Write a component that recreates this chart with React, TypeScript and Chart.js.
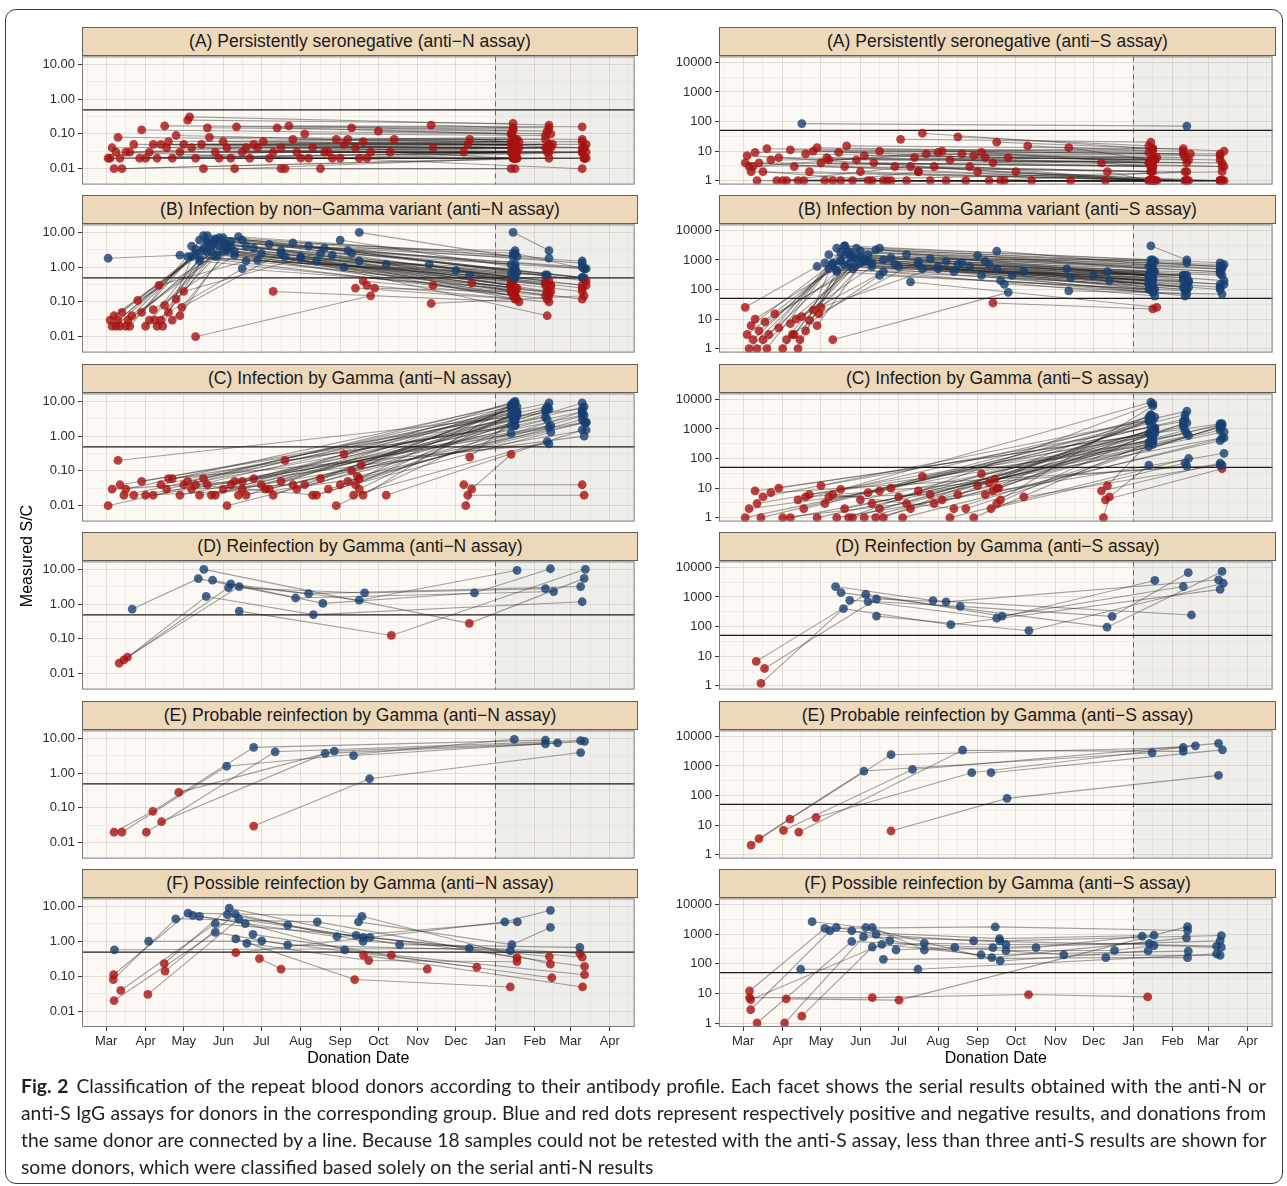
import React, { useEffect, useRef } from "react";
import { Chart, registerables } from "chart.js";

Chart.register(...registerables);
Chart.defaults.font.family = "'Liberation Sans', Arial, Helvetica, sans-serif";

// ---------- calendar / axis ticks ----------
const MONTH_LABELS = ["Mar", "Apr", "May", "Jun", "Jul", "Aug", "Sep", "Oct", "Nov", "Dec", "Jan", "Feb", "Mar", "Apr"];
const MONTH_START_DAYS = [0, 31, 61, 92, 122, 153, 184, 214, 245, 275, 306, 337, 365, 396];
const MONTH_LENGTHS = [31, 30, 31, 30, 31, 31, 30, 31, 30, 31, 31, 28, 31, 30];
const X_MINOR_DAYS = [-14.5, 15.5, 46, 76.5, 107, 137.5, 168.5, 199, 229.5, 260, 290.5, 321.5, 351, 380.5, 411];
const X_MIN_DAY = -19;
const X_MAX_DAY = 415.5;
const JAN_2021_DAY = 306;

const N_TICKS = [0.01, 0.1, 1, 10];
const N_TICK_LABELS = ["0.01", "0.10", "1.00", "10.00"];
const N_MINOR = [0.0316, 0.316, 3.16];
const N_MIN = 0.00349;
const N_MAX = 16.93;
const N_CUTOFF = 0.49;

const S_TICKS = [1, 10, 100, 1000, 10000];
const S_TICK_LABELS = ["1", "10", "100", "1000", "10000"];
const S_MINOR = [3.16, 31.6, 316, 3162];
const S_MIN = 0.734;
const S_MAX = 15910;
const S_CUTOFF = 50;

const ROW_TITLES = [
  "(A) Persistently seronegative",
  "(B) Infection by non\u2212Gamma variant",
  "(C) Infection by Gamma",
  "(D) Reinfection by Gamma",
  "(E) Probable reinfection by Gamma",
  "(F) Possible reinfection by Gamma",
];

// ---------- data (dates in months since 1 Mar 2020) ----------
// (A) persistently seronegative
const A_DATES = [
  [0.1, 10.4], [0.15, 10.5], [0.2, 11.4], [0.3, 10.5], [0.35, 12.3], [0.4, 10.45], [0.6, 11.3], [0.7, 10.6], [0.85, 12.35], [0.9, 10.4],
  [1.1, 10.5], [1.2, 11.5], [1.3, 10.45], [1.5, 11.4], [1.55, 12.3], [1.6, 10.55], [1.7, 11.35], [1.9, 10.4], [2.0, 12.4], [2.1, 10.45],
  [2.15, 11.4], [2.3, 10.5], [2.45, 12.3], [2.6, 10.45], [2.65, 11.3], [2.8, 10.5], [2.9, 12.35], [3.0, 10.4], [3.1, 11.45], [3.3, 10.5],
  [3.35, 10.45], [3.5, 12.3], [3.7, 10.55], [3.9, 11.4], [4.05, 10.45], [4.2, 12.4], [4.4, 10.4], [4.5, 11.35], [4.6, 10.5], [4.7, 12.3],
  [4.8, 10.45], [4.9, 10.5], [5.1, 11.3], [5.2, 10.55], [5.3, 12.35], [5.5, 10.4], [5.7, 11.4], [5.9, 10.5], [6.0, 12.3], [6.1, 10.45],
  [6.3, 11.35], [6.4, 10.5], [6.5, 12.4], [6.6, 10.45], [6.8, 10.55], [7.0, 11.45], [7.3, 10.5], [7.4, 12.3], [8.35, 10.45], [8.4, 11.4],
  [9.2, 10.5], [9.3, 12.35], [9.35, 10.4], [1.0, 4.3, 10.5], [2.2, 5.6, 11.35], [0.5, 3.6, 12.3], [1.8, 6.2, 10.45], [3.2, 6.7, 12.35], [0.25, 5.0], [2.5, 4.5],
  [3.8, 10.6], [5.8, 10.5], [0.05, 10.5], [1.4, 10.55],
];
const A_N = [
  [0.02, 0.03], [0.04, 0.05], [0.01, 0.02], [0.08, 0.06], [0.02, 0.03], [0.01, 0.02], [0.03, 0.04], [0.05, 0.04], [0.02, 0.02], [0.13, 0.1],
  [0.03, 0.03], [0.05, 0.05], [0.02, 0.02], [0.17, 0.15], [0.04, 0.04], [0.06, 0.07], [0.02, 0.03], [0.03, 0.03], [0.05, 0.05], [0.25, 0.2],
  [0.31, 0.18], [0.02, 0.02], [0.05, 0.06], [0.15, 0.12], [0.08, 0.07], [0.03, 0.04], [0.02, 0.02], [0.06, 0.05], [0.04, 0.04], [0.01, 0.02],
  [0.16, 0.14], [0.03, 0.03], [0.02, 0.02], [0.04, 0.05], [0.06, 0.05], [0.02, 0.02], [0.15, 0.1], [0.04, 0.04], [0.01, 0.01], [0.17, 0.16],
  [0.07, 0.06], [0.03, 0.03], [0.1, 0.09], [0.02, 0.02], [0.04, 0.04], [0.01, 0.01], [0.03, 0.03], [0.07, 0.07], [0.02, 0.01], [0.05, 0.05],
  [0.15, 0.12], [0.04, 0.04], [0.02, 0.03], [0.06, 0.06], [0.03, 0.03], [0.12, 0.1], [0.03, 0.02], [0.07, 0.07], [0.18, 0.15], [0.04, 0.05],
  [0.03, 0.03], [0.05, 0.04], [0.07, 0.06], [0.02, 0.03, 0.03], [0.04, 0.03, 0.04], [0.03, 0.04, 0.03], [0.09, 0.07, 0.08], [0.02, 0.02, 0.02], [0.03, 0.02], [0.01, 0.01],
  [0.05, 0.06], [0.02, 0.03], [0.02, 0.02], [0.05, 0.04],
];
const A_S = [
  [7, 1], [3, 5], [2, 1], [9, 12], [1, 1], [4, 3], [12, 10], [5, 6], [1, 2], [6, 4],
  [1, 1], [11, 8], [3, 2], [85, 70], [1, 1], [8, 5], [2, 1], [13, 9], [4, 3], [1, 1],
  [6, 4], [1, 1], [9, 7], [3, 2], [15, 12], [1, 1], [5, 4], [2, 1], [7, 5], [1, 1],
  [4, 3], [10, 8], [1, 1], [3, 2], [25, 20], [1, 1], [6, 4], [2, 1], [40, 12], [8, 5],
  [1, 1], [3, 2], [10, 8], [1, 1], [5, 3], [30, 15], [1, 1], [7, 6], [2, 1], [9, 4],
  [1, 2], [4, 3], [20, 10], [1, 1], [6, 5], [2, 1], [15, 10], [1, 1], [13, 5], [1, 1],
  [4, 3], [1, 1], [2, 1], [1, 3, 1], [5, 8, 6], [2, 1, 1], [10, 6, 5], [1, 1, 1], [3, 9], [1, 2],
  [1, 1], [3, 1], [4, 1], [1, 1],
];

// (B) infection by non-Gamma variant
const B_DATES = [
  [0.1, 2.5, 10.4], [0.15, 2.6, 11.3], [0.2, 2.7, 12.3], [0.25, 2.3, 10.45], [0.3, 2.8, 10.5], [0.35, 3.0, 11.4], [0.4, 2.9, 12.35], [0.5, 2.4, 10.4], [0.55, 3.1, 10.5], [0.6, 2.2, 11.35],
  [0.65, 2.6, 12.3], [0.8, 3.2, 10.45], [0.9, 2.5, 10.55], [1.0, 2.7, 11.45], [1.1, 2.8, 12.4], [1.2, 3.3, 10.4], [1.3, 2.9, 10.5], [1.4, 2.4, 11.3], [1.45, 2.3, 12.3], [1.5, 3.0, 10.45],
  [1.6, 2.6, 10.5], [1.7, 3.4, 11.4], [1.8, 2.8], [1.9, 3.1, 12.35], [1.95, 4.5, 10.4], [2.0, 5.0, 10.5], [1.25, 3.5, 11.35], [2.3, 6.8], [2.1, 10.4], [2.2, 11.3],
  [2.4, 12.3], [2.5, 10.5], [2.6, 6.2, 10.45], [2.7, 5.5, 11.4], [2.75, 10.55], [2.85, 12.4], [3.0, 10.4], [3.1, 6.5, 11.35], [3.2, 12.3], [3.3, 10.5],
  [3.5, 10.45], [3.6, 11.45], [3.8, 12.35], [4.0, 10.4], [4.2, 10.5], [4.5, 11.3], [4.8, 12.3], [5.0, 10.45], [5.2, 10.55], [5.4, 11.4],
  [5.6, 12.4], [5.8, 10.4], [6.0, 10.5], [6.1, 11.35], [6.3, 12.3], [6.5, 10.45], [6.6, 10.5], [6.7, 11.4], [6.4, 10.5], [8.3, 10.4],
  [8.4, 11.3], [9.0, 12.3], [9.4, 10.5], [9.35, 11.45], [8.35, 12.35], [10.45, 11.4], [10.5, 12.35], [4.6, 11.35], [6.9, 10.4], [7.2, 10.5],
  [0.05, 1.9, 10.45], [1.35, 3.6, 10.55], [4.3, 10.6], [3.9, 12.3],
];
const B_N = [
  [0.03, 3.5, 0.3], [0.02, 5, 0.4], [0.04, 4, 0.25], [0.02, 2.5, 0.8], [0.03, 6, 1.2], [0.02, 3, 0.15], [0.05, 7, 0.5], [0.02, 1.5, 0.2], [0.03, 4.5, 0.6], [0.02, 2, 0.12],
  [0.04, 5.5, 1.5], [0.11, 3.8, 0.35], [0.05, 8, 2], [0.02, 2.8, 0.3], [0.03, 6.5, 0.9], [0.06, 2.2, 0.25], [0.02, 4, 3], [0.03, 1.8, 0.6], [0.02, 3.3, 0.2], [0.08, 5, 0.4],
  [0.05, 2.6, 0.15], [0.03, 7.5, 1.8], [0.12, 2], [0.04, 3.5, 0.45], [0.07, 2.5, 0.3], [0.2, 1.8, 0.9], [0.03, 0.9, 0.2], [0.01, 0.15], [2, 0.6], [4, 0.3],
  [6, 1], [3, 0.2], [8, 3, 0.8], [5, 2.5, 0.4], [4.5, 0.12], [2.2, 0.3], [7, 1.2], [3, 1.5, 0.6], [5.5, 0.5], [2.8, 0.25],
  [6, 2.5], [4, 0.2], [3.5, 0.9], [2.5, 0.3], [4.5, 0.5], [3, 0.35], [5, 1.3], [2, 0.15], [4, 0.7], [1.5, 0.18],
  [3.5, 0.4], [2.2, 0.3], [6, 1], [1, 0.2], [2.5, 0.5], [10, 2], [0.4, 0.15], [0.3, 0.1], [0.25, 0.12], [1.2, 0.4],
  [0.3, 0.15], [0.8, 0.3], [0.35, 0.2], [0.6, 0.3], [0.09, 0.15], [10, 3], [2.5, 0.9], [2, 0.04], [0.25, 0.2], [1.2, 0.5],
  [1.8, 2.2, 0.5], [0.3, 1.5, 0.25], [0.2, 0.1], [1.6, 0.12],
];
const B_S = [
  [3, 900, 200], [1, 1500, 300], [6, 2000, 400], [2, 700, 250], [10, 1200, 500], [1, 800, 150], [4, 2500, 600], [2, 400, 100], [8, 1000, 350], [1, 500, 120],
  [3, 3000, 800], [15, 900, 200], [5, 1800, 900], [1, 700, 180], [2, 1400, 700], [7, 600, 150], [3, 1100, 1000], [1, 450, 300], [2, 800, 120], [12, 1300, 250],
  [4, 650, 90], [9, 2200, 800], [20, 500], [6, 1000, 300], [15, 900, 200], [25, 600, 400], [3, 300, 90], [2, 80], [800, 300], [1500, 250],
  [2500, 500], [1000, 200], [3000, 900, 400], [1800, 700, 300], [1200, 100], [600, 150], [2000, 600], [900, 500, 300], [1500, 400], [800, 150],
  [2500, 1000], [1000, 120], [1200, 500], [600, 200], [1500, 300], [700, 200], [1100, 600], [500, 100], [900, 400], [400, 100],
  [800, 200], [600, 300], [1400, 500], [300, 100], [700, 350], [2000, 700], [200, 80], [150, 70], [35, 22], [500, 300],
  [250, 120], [300, 150], [200, 100], [400, 200], [90, 70], [3000, 1000], [800, 600], [500, 60], [300, 150], [400, 250],
  [25, 600, 300], [10, 400, 60], [180, 25], [700, 100],
];

// (C) infection by Gamma
const C_DATES = [
  [0.05, 10.45], [0.3, 12.3], [0.35, 10.5], [0.45, 11.35], [0.5, 10.4], [0.9, 10.55], [1.2, 12.35], [1.4, 11.4], [1.55, 10.45], [1.7, 10.5],
  [1.9, 12.3], [2.0, 11.3], [2.1, 10.4], [2.2, 4.8, 10.5], [2.4, 12.4], [2.5, 10.45], [2.6, 11.45], [2.8, 10.55], [3.0, 12.3], [3.1, 10.4],
  [3.2, 11.35], [3.3, 10.5], [3.5, 12.35], [3.6, 10.45], [3.8, 11.4], [4.0, 10.55], [4.1, 12.4], [4.3, 10.4], [4.5, 11.3], [4.6, 10.5],
  [4.9, 12.3], [5.1, 10.45], [5.3, 11.45], [5.5, 10.55], [5.7, 12.35], [5.9, 10.4], [6.0, 11.4], [6.1, 10.5], [6.2, 12.3], [6.3, 10.45],
  [6.35, 11.35], [6.4, 10.55], [6.45, 12.4], [6.5, 10.4], [6.55, 11.3], [6.6, 10.5], [7.2, 12.3], [9.2, 12.3], [9.3, 12.35], [9.25, 9.4, 10.4],
  [9.35, 10.45], [0.15, 3.5, 10.5], [1.0, 4.2, 11.35], [2.3, 5.4, 12.3], [3.4, 6.5, 10.45], [1.6, 11.4], [2.7, 10.5], [0.7, 12.35],
];
const C_N = [
  [0.01, 5], [0.2, 6], [0.04, 3], [0.02, 7], [0.03, 8], [0.05, 4], [0.02, 2.5], [0.04, 9], [0.03, 6], [0.06, 2],
  [0.02, 5], [0.04, 3.5], [0.05, 7], [0.03, 0.04, 4], [0.02, 1.5], [0.06, 9], [0.04, 2], [0.02, 5], [0.03, 4], [0.01, 1.2],
  [0.04, 6], [0.05, 3], [0.03, 7], [0.02, 8], [0.06, 1.8], [0.04, 4], [0.03, 2.5], [0.02, 6], [0.05, 5], [0.2, 2],
  [0.03, 9], [0.04, 3.5], [0.02, 1.3], [0.06, 7], [0.03, 4], [0.01, 2], [0.04, 6], [0.3, 5], [0.05, 3], [0.1, 8],
  [0.02, 0.7], [0.04, 5], [0.07, 2.5], [0.03, 4], [0.15, 6], [0.02, 9], [0.02, 1.5], [0.04, 0.04], [0.02, 0.02], [0.01, 0.03, 0.3],
  [0.25, 3], [0.03, 0.05, 6], [0.02, 0.03, 3], [0.04, 0.02, 5], [0.02, 0.06, 8], [0.06, 0.6], [0.02, 10], [0.02, 1.0],
];
const C_S = [
  [1, 800], [8, 1500], [3, 600], [1, 3000], [5, 2000], [10, 700], [1, 500], [4, 4000], [2, 1200], [6, 300],
  [1, 900], [12, 1800], [3, 2500], [5, 6, 800], [1, 150], [9, 8000], [2, 600], [1, 1000], [4, 1300], [1, 250],
  [7, 2200], [3, 400], [2, 1500], [1, 3000], [10, 700], [5, 900], [1, 500], [2, 1800], [8, 1200], [25, 400],
  [3, 1100], [4, 600], [1, 100], [6, 2500], [2, 1300], [1, 350], [12, 1600], [30, 900], [6, 400], [15, 2000],
  [2, 70], [8, 1100], [20, 800], [3, 700], [10, 1500], [4, 6000], [5, 60], [8, 70], [4, 45], [1, 5, 60],
  [12, 400], [2, 8, 2000], [1, 3, 900], [6, 2, 1200], [1, 10, 3000], [5, 55], [1, 7000], [7, 60],
];

// (D) reinfection by Gamma
const D_DATES = [
  [0.33, 3.14, 6.64, 11.3], [0.54, 3.42, 5.2, 12.26], [0.45, 2.57, 5.32, 12.3], [0.66, 2.37, 4.87, 11.53],
  [2.51, 9.34, 12.35], [2.73, 5.56, 9.47, 11.44], [3.2, 6.5, 10.55], [3.42, 7.33, 12.38],
];
const D_N = [
  [0.02, 3.0, 2.1, 2.8], [0.03, 3.2, 2.0, 3.2], [0.025, 1.66, 0.5, 1.17], [0.72, 5.4, 1.5, 2.3],
  [10, 0.28, 5.5], [4.9, 1.05, 2.1, 10.4], [3.8, 1.3, 9.4], [0.63, 0.126, 10],
];
const D_S = [
  [6.6, 1230, 225, 2250], [3.8, 850, 680, 3800], [1.2, 400, 115, 1800], [null, 2240, 750, 245],
  [1400, 95, 7300], [770, 480, 220, 6600], [690, 190, 3600], [225, 72, 2900],
];

// (E) probable reinfection by Gamma
const E_DATES = [
  [0.2, 1.19, 3.8, 11.3], [0.4, 3.09, 10.48], [1.02, 4.35, 12.26], [1.42, 5.62, 11.3],
  [1.87, 5.85, 11.64], [3.8, 6.77, 12.26], [6.35, 12.36],
];
const E_N = [
  [0.02, 0.08, 5.5, 8.9], [0.02, 1.58, 9.4], [0.02, 4.1, 8.6], [0.04, 3.7, 6.9],
  [0.28, 4.3, 7.4], [0.03, 0.69, 3.9], [3.2, 8.2],
];
const E_S = [
  [2.1, 16, 2400, 4200], [3.5, 670, 2800], [6.6, 760, 5800], [5.8, 3400, 3100],
  [18, 590, 4800], [6.3, 80, 480], [590, 3500],
];

// (F) possible reinfection by Gamma: [month, value, month, value, ...]
const F_N = [
  [0.21, 0.57, 9.34, 0.62],
  [0.19, 0.11, 2.11, 6.4, 6.57, 5.2, 11.44, 0.22],
  [0.18, 0.08, 1.79, 4.4, 5.42, 3.6, 10.55, 0.34],
  [0.37, 0.039, 2.8, 3.2, 6.42, 1.48, 12.36, 0.19],
  [0.2, 0.02, 2.8, 1.8, 4.67, 0.79, 10.38, 0.54],
  [1.06, 0.03, 3.41, 4.3, 6.6, 1.3, 12.3, 0.35],
  [1.49, 0.23, 3.16, 8.9, 6.78, 1.3, 11.41, 0.36],
  [1.51, 0.14, 3.32, 6.0, 6.6, 1.0, 12.24, 0.45],
  [1.08, 1.0, 4.01, 1.02, 9.53, 0.18],
  [2.23, 5.5, 5.92, 1.35, 10.56, 3.6],
  [2.4, 5.2, 3.58, 3.2, 6.12, 0.57, 11.48, 0.09],
  [3.11, 5.8, 4.67, 2.9, 7.54, 0.8, 12.24, 0.67],
  [3.33, 1.17, 6.38, 0.08, 10.38, 0.049],
  [3.33, 0.47, 10.24, 3.6, 11.44, 7.7],
  [3.62, 0.87, 6.75, 0.28, 10.55, 0.26],
  [3.78, 1.58, 7.33, 0.4, 12.36, 0.11],
  [3.95, 0.32, 4.5, 0.16, 8.25, 0.16],
  [6.61, 0.4, 12.31, 0.049],
  [6.48, 3.6, 10.42, 0.8, 11.44, 2.5],
];
const F_S = [
  [0.16, 7.2, 3.31, 7.2, 7.32, 9.1, 10.37, 7.6],
  [1.09, 6.5, 4.01, 5.9, 11.42, 1780],
  [0.16, 12, 2.1, 1550, 6.46, 1740, 11.42, 1320],
  [0.19, 2.8, 2.23, 1290, 6.57, 700, 10.53, 910],
  [0.35, 1.0, 2.78, 560, 6.4, 350, 12.3, 590],
  [1.05, 1.0, 3.08, 800, 6.58, 590, 12.33, 890],
  [1.5, 1.7, 3.31, 365, 4.65, 490, 6.74, 440, 10.41, 480],
  [0.19, 6.1, 3.56, 450, 6.09, 200, 11.44, 265],
  [1.47, 65, 4.49, 65, 12.21, 215],
  [1.77, 2600, 3.14, 1660, 6.59, 124, 10.38, 270],
  [2.39, 1660, 3.41, 970, 5.9, 590, 12.21, 390],
  [2.78, 1290, 3.77, 600, 6.37, 160, 11.39, 740],
  [3.31, 1660, 4.65, 290, 7.51, 350, 10.23, 850],
  [3.6, 140, 9.31, 160, 11.42, 160],
  [3.93, 290, 5.42, 355, 8.22, 200, 12.3, 190],
  [6.74, 275, 9.53, 280, 12.33, 355, 10.53, 410],
];

const CAPTION_LINES = [
  "Classification of the repeat blood donors according to their antibody profile. Each facet shows the serial results obtained with the anti-N or",
  "anti-S IgG assays for donors in the corresponding group. Blue and red dots represent respectively positive and negative results, and donations from",
  "the same donor are connected by a line. Because 18 samples could not be retested with the anti-S assay, less than three anti-S results are shown for",
  "some donors, which were classified based solely on the serial anti-N results",
];

// ---------- styles / geometry ----------
const COL_LEFT = [82, 719];
const COL_WIDTH = [555, 556];
const PANEL_TOPS = [56, 224, 393, 561, 730, 898];
const PANEL_H = 129;
const STRIP_H = 29;
const Y_AXIS_W = 46;
const PAD_T = 4;
const PAD_B = 4;
const PAD_R = 2;
const X_AXIS_H = 46;

const PANEL_BG = "#FCF8F3";
const SHADE_BG = "#F0EEEA";
const STRIP_BG = "#EDD8BA";
const GRID_MAJOR = "rgba(170,160,150,0.30)";
const GRID_MINOR = "rgba(170,160,150,0.20)";
const POS_COLOR = "rgba(22,62,112,0.8)";
const NEG_COLOR = "rgba(168,18,18,0.8)";
const LINE_COLOR = "rgba(30,27,25,0.40)";
const TEXT_COLOR = "#2b2b2b";
const TICK_COLOR = "#333333";

// ---------- helpers ----------
type Pt = { x: number; y: number };
const toDay = (m: number) => {
  const i = Math.floor(m);
  return MONTH_START_DAYS[i] + (m - i) * MONTH_LENGTHS[i];
};
function fromGroup(dates: number[][], vals: (number | null)[][]): Pt[][] {
  return dates.map((ds, i) =>
    ds
      .map((m, j) => ({ x: toDay(m), y: vals[i][j] as number }))
      .filter((p) => p.y !== null && p.y !== undefined)
      .sort((a, b) => a.x - b.x)
  );
}
function fromPairs(flat: number[][]): Pt[][] {
  return flat.map((a) => {
    const out: Pt[] = [];
    for (let k = 0; k < a.length; k += 2) out.push({ x: toDay(a[k]), y: a[k + 1] });
    return out.sort((p, q) => p.x - q.x);
  });
}

const N_GROUPS = () => [
  fromGroup(A_DATES, A_N), fromGroup(B_DATES, B_N), fromGroup(C_DATES, C_N),
  fromGroup(D_DATES, D_N), fromGroup(E_DATES, E_N), fromPairs(F_N),
];
const S_GROUPS = () => [
  fromGroup(A_DATES, A_S), fromGroup(B_DATES, B_S), fromGroup(C_DATES, C_S),
  fromGroup(D_DATES, D_S), fromGroup(E_DATES, E_S), fromPairs(F_S),
];

const X_GRID = [...MONTH_START_DAYS, ...X_MINOR_DAYS].sort((a, b) => a - b);
const isMajorX = (v: any) => MONTH_START_DAYS.indexOf(v) >= 0;

function decoPlugin(cutoff: number) {
  return {
    id: "panelDeco",
    beforeDraw(chart: any) {
      const { ctx, chartArea: a, scales } = chart;
      const xj = scales.x.getPixelForValue(JAN_2021_DAY);
      ctx.save();
      ctx.fillStyle = PANEL_BG;
      ctx.fillRect(a.left, a.top, a.right - a.left, a.bottom - a.top);
      ctx.fillStyle = SHADE_BG;
      ctx.fillRect(xj, a.top, a.right - xj, a.bottom - a.top);
      ctx.restore();
    },
    beforeDatasetsDraw(chart: any) {
      const { ctx, chartArea: a, scales } = chart;
      const xj = Math.round(scales.x.getPixelForValue(JAN_2021_DAY)) + 0.5;
      const yc = scales.y.getPixelForValue(cutoff);
      ctx.save();
      ctx.strokeStyle = "#666666";
      ctx.lineWidth = 1;
      ctx.setLineDash([5, 4]);
      ctx.beginPath();
      ctx.moveTo(xj, a.top);
      ctx.lineTo(xj, a.bottom);
      ctx.stroke();
      ctx.setLineDash([]);
      ctx.strokeStyle = "#1c1c1c";
      ctx.lineWidth = 1.4;
      ctx.beginPath();
      ctx.moveTo(a.left, yc);
      ctx.lineTo(a.right, yc);
      ctx.stroke();
      ctx.restore();
    },
    afterDraw(chart: any) {
      const { ctx, chartArea: a } = chart;
      ctx.save();
      ctx.strokeStyle = "#7d7d7d";
      ctx.lineWidth = 1;
      ctx.strokeRect(a.left + 0.5, a.top + 0.5, a.right - a.left - 1, a.bottom - a.top - 1);
      ctx.restore();
    },
  };
}

function Panel({ row, col }: { row: number; col: number }) {
  const ref = useRef<HTMLCanvasElement | null>(null);
  const isBottom = row === 5;
  const L = COL_LEFT[col];
  const W = COL_WIDTH[col];
  const cw = Y_AXIS_W + W + PAD_R;
  const ch = PAD_T + PANEL_H + (isBottom ? X_AXIS_H : PAD_B);

  useEffect(() => {
    const isN = col === 0;
    const donors = (isN ? N_GROUPS() : S_GROUPS())[row];
    const cutoff = isN ? N_CUTOFF : S_CUTOFF;
    const majors = isN ? N_TICKS : S_TICKS;
    const labels = isN ? N_TICK_LABELS : S_TICK_LABELS;
    const yGrid = [...majors, ...(isN ? N_MINOR : S_MINOR)].sort((a, b) => a - b);
    const isMajorY = (v: any) => majors.indexOf(v) >= 0;
    const pts = donors.flat();

    const chart = new Chart(ref.current as HTMLCanvasElement, {
      type: "scatter",
      data: {
        datasets: [
          {
            type: "scatter",
            data: pts,
            pointRadius: 4.4,
            pointHoverRadius: 4.4,
            pointBackgroundColor: pts.map((p) => (p.y >= cutoff ? POS_COLOR : NEG_COLOR)),
            pointBorderWidth: 0,
            pointBorderColor: "rgba(0,0,0,0)",
          },
          ...donors.map((d) => ({
            type: "line",
            data: d,
            borderColor: LINE_COLOR,
            borderWidth: 1.1,
            pointRadius: 0,
            pointHoverRadius: 0,
            fill: false,
            tension: 0,
          })),
        ],
      } as any,
      options: {
        animation: false,
        responsive: false,
        events: [],
        layout: { padding: { left: 0, right: PAD_R, top: PAD_T, bottom: isBottom ? 0 : PAD_B } },
        plugins: { legend: { display: false }, tooltip: { enabled: false }, title: { display: false } },
        scales: {
          x: {
            type: "linear",
            min: X_MIN_DAY,
            max: X_MAX_DAY,
            bounds: "data",
            afterBuildTicks: (s: any) => {
              s.ticks = X_GRID.map((v) => ({ value: v }));
            },
            afterFit: (s: any) => {
              s.height = isBottom ? X_AXIS_H : 0;
              s.paddingLeft = 0;
              s.paddingRight = 0;
            },
            border: { display: false },
            grid: {
              color: (c: any) => (isMajorX(c.tick && c.tick.value) ? GRID_MAJOR : GRID_MINOR),
              lineWidth: (c: any) => (isMajorX(c.tick && c.tick.value) ? 1 : 0.6),
              drawTicks: isBottom,
              tickLength: 4,
              tickColor: (c: any) => (isMajorX(c.tick && c.tick.value) ? TICK_COLOR : "rgba(0,0,0,0)"),
            },
            ticks: {
              display: isBottom,
              autoSkip: false,
              maxRotation: 0,
              minRotation: 0,
              padding: 3,
              color: TEXT_COLOR,
              font: { size: 13 },
              callback: (v: any) => {
                const i = MONTH_START_DAYS.indexOf(v);
                return i >= 0 ? MONTH_LABELS[i] : "";
              },
            },
            title: {
              display: isBottom,
              text: "Donation Date",
              color: "#000",
              font: { size: 16 },
              padding: { top: 0, bottom: 5 },
            },
          },
          y: {
            type: "logarithmic",
            min: isN ? N_MIN : S_MIN,
            max: isN ? N_MAX : S_MAX,
            bounds: "data",
            afterBuildTicks: (s: any) => {
              s.ticks = yGrid.map((v) => ({ value: v }));
            },
            afterFit: (s: any) => {
              s.width = Y_AXIS_W;
              s.paddingTop = 0;
              s.paddingBottom = 0;
            },
            border: { display: false },
            grid: {
              color: (c: any) => (isMajorY(c.tick && c.tick.value) ? GRID_MAJOR : GRID_MINOR),
              lineWidth: (c: any) => (isMajorY(c.tick && c.tick.value) ? 1 : 0.6),
              drawTicks: true,
              tickLength: 4,
              tickColor: (c: any) => (isMajorY(c.tick && c.tick.value) ? TICK_COLOR : "rgba(0,0,0,0)"),
            },
            ticks: {
              autoSkip: false,
              padding: 3,
              color: TEXT_COLOR,
              font: { size: 13 },
              callback: (v: any) => {
                const i = majors.indexOf(v);
                return i >= 0 ? labels[i] : "";
              },
            },
          },
        },
      } as any,
      plugins: [decoPlugin(cutoff) as any],
    });
    return () => chart.destroy();
  }, [row, col]);

  return (
    <canvas
      ref={ref}
      width={cw}
      height={ch}
      style={{ position: "absolute", left: L - Y_AXIS_W, top: PANEL_TOPS[row] - PAD_T, width: cw, height: ch }}
    />
  );
}

function Strip({ row, col }: { row: number; col: number }) {
  const assay = col === 0 ? "N" : "S";
  return (
    <div
      style={{
        position: "absolute",
        left: COL_LEFT[col],
        top: PANEL_TOPS[row] - STRIP_H,
        width: COL_WIDTH[col] + 1,
        height: STRIP_H,
        boxSizing: "border-box",
        background: STRIP_BG,
        border: "1px solid #5e5e5e",
        display: "flex",
        alignItems: "center",
        justifyContent: "center",
        fontFamily: "'Liberation Sans', Arial, sans-serif",
        fontSize: 17.5,
        color: "#1a1a1a",
        whiteSpace: "nowrap",
      }}
    >
      {`${ROW_TITLES[row]} (anti\u2212${assay} assay)`}
    </div>
  );
}

export default function App() {
  const cells: { row: number; col: number }[] = [];
  for (let r = 0; r < 6; r++) for (let c = 0; c < 2; c++) cells.push({ row: r, col: c });
  return (
    <div style={{ position: "absolute", left: 0, top: 0, width: 1287, height: 1186, background: "#fff", overflow: "hidden" }}>
      <div
        style={{
          position: "absolute",
          left: 5,
          top: 9,
          width: 1278,
          height: 1175,
          boxSizing: "border-box",
          border: "1.3px solid #3c3c3c",
          borderRadius: 11,
        }}
      />
      {cells.map((c) => (
        <Panel key={`p${c.row}${c.col}`} row={c.row} col={c.col} />
      ))}
      {cells.map((c) => (
        <Strip key={`s${c.row}${c.col}`} row={c.row} col={c.col} />
      ))}
      <div
        style={{
          position: "absolute",
          left: 27 - 100,
          top: 556 - 10,
          width: 200,
          height: 20,
          lineHeight: "20px",
          textAlign: "center",
          transform: "rotate(-90deg)",
          fontFamily: "'Liberation Sans', Arial, sans-serif",
          fontSize: 16,
          color: "#000",
          whiteSpace: "nowrap",
        }}
      >
        Measured S/C
      </div>
      <div
        style={{
          position: "absolute",
          left: 21,
          top: 1072,
          width: 1245,
          fontFamily: "Lato, 'Noto Sans', sans-serif",
          fontSize: 19.3,
          lineHeight: "27px",
          color: "#231f20",
        }}
      >
        {CAPTION_LINES.map((t, i) => (
          <div
            key={i}
            style={{
              whiteSpace: "nowrap",
              textAlign: i < 3 ? "justify" : "left",
              textAlignLast: i < 3 ? "justify" : "left",
            } as any}
          >
            {i === 0 ? <b style={{ marginRight: 8 }}>Fig. 2</b> : null}
            {t}
          </div>
        ))}
      </div>
    </div>
  );
}
